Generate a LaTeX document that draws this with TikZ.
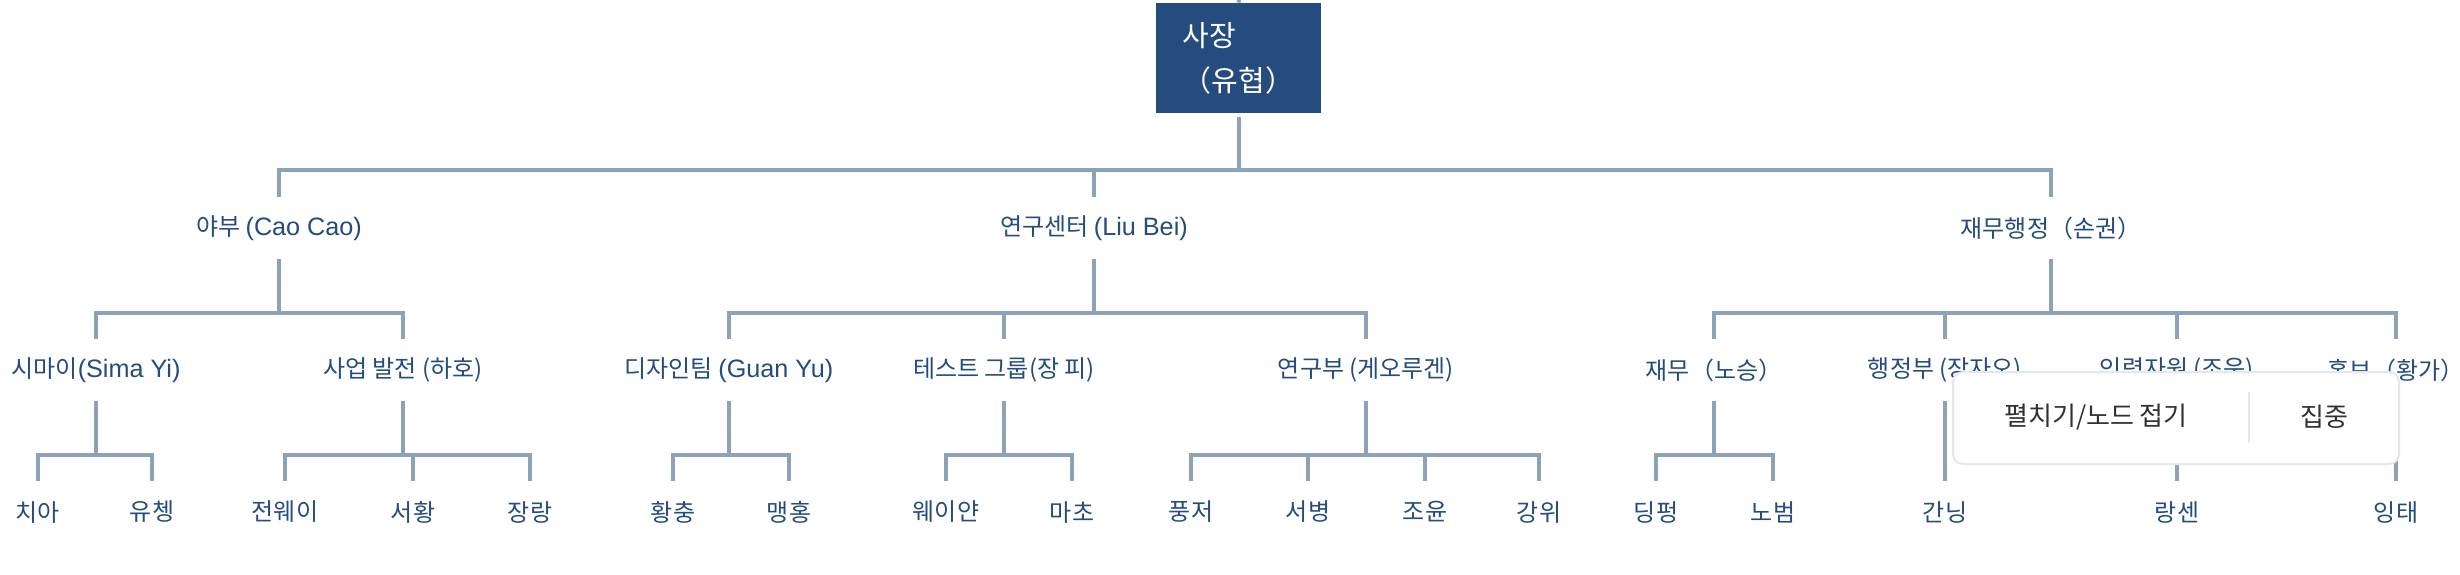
\documentclass[tikz,border=0pt]{standalone}
\usepackage{fontspec}
\setmainfont{Noto Sans CJK KR}
\newfontfamily\latinfont[Scale=1.05]{Liberation Sans}
\newcommand\ltn[1]{{\latinfont#1}}
\definecolor{Navy}{HTML}{244C7E}
\definecolor{Steel}{HTML}{8BA2B9}
\definecolor{MenuInk}{HTML}{303133}
\definecolor{MenuLine}{HTML}{E4E7ED}
\tikzset{
  boss/.style={
    fill=Navy, text=white, align=left, inner sep=0pt,
    minimum width=82.5pt, minimum height=55pt,
    font=\fontsize{14.5}{22.5}\selectfont
  },
  unit/.style={
    text=Navy, inner sep=0pt, minimum height=31pt,
    font=\fontsize{12}{14}\selectfont
  },
  link/.style={draw=Steel, line width=2pt},
  popup/.style={
    rounded corners=5pt, draw=MenuLine, line width=1pt, fill=white,
    minimum width=223pt, minimum height=46pt, inner sep=0pt
  },
  menuitem/.style={text=MenuInk, inner sep=0pt, font=\fontsize{13}{15}\selectfont}
}

\begin{document}
\begin{tikzpicture}[x=0.5pt,y=-0.5pt]
  \path[fill=white,use as bounding box] (0,0) rectangle (2460,574);
  % top of the chart
  \coordinate (above) at (1239,0);
  \node[boss] (boss) at (1238.5,58) {사장\\（유협）};
  % departments
  \node[unit] (caocao) at (279,228) {야부 \ltn{(Cao Cao)}};
  \node[unit] (liubei) at (1094,228) {연구센터 \ltn{(Liu Bei)}};
  \node[unit] (sunquan) at (2051,228) {재무행정（손권）};
  % teams
  \node[unit] (sima) at (96,370) {시마이\ltn{(Sima Yi)}};
  \node[unit] (business) at (403,370) {사업 발전 (하호)};
  \node[unit] (design) at (729,370) {디자인팀 \ltn{(Guan Yu)}};
  \node[unit] (testgroup) at (1004,370) {테스트 그룹(장 피)};
  \node[unit] (research) at (1366,370) {연구부 (게오루겐)};
  \node[unit] (finance) at (1714,370) {재무（노승）};
  \node[unit] (admin) at (1945,370) {행정부 (장자오)};
  \node[unit] (hr) at (2177,370) {인력자원 (조운)};
  \node[unit] (pr) at (2396,370) {홍보（황가）};
  % members
  \node[unit] (chia) at (38,512) {치아};
  \node[unit] (youcheng) at (152,512) {유쳉};
  \node[unit] (zhenwei) at (285,512) {전웨이};
  \node[unit] (xuhuang) at (413,512) {서황};
  \node[unit] (zhangliang) at (530,512) {장랑};
  \node[unit] (huangzhong) at (673,512) {황충};
  \node[unit] (menghong) at (789,512) {맹홍};
  \node[unit] (weiyan) at (946,512) {웨이얀};
  \node[unit] (machao) at (1072,512) {마초};
  \node[unit] (fengzhe) at (1191,512) {풍저};
  \node[unit] (xubing) at (1308,512) {서병};
  \node[unit] (zhaoyun) at (1425,512) {조윤};
  \node[unit] (jiangwei) at (1539,512) {강위};
  \node[unit] (dingping) at (1656,512) {딩펑};
  \node[unit] (nobum) at (1773,512) {노범};
  \node[unit] (ganning) at (1945,512) {간닝};
  \node[unit] (langsen) at (2177,512) {랑센};
  \node[unit] (yingtai) at (2396,512) {잉태};
  % links
  \draw[link] (above) -- (boss.north);
  \draw[link,shorten <=2pt] (boss.south) -- ++(0,57) -| (caocao.north);
  \draw[link,shorten <=2pt] (boss.south) -- ++(0,57) -| (liubei.north);
  \draw[link,shorten <=2pt] (boss.south) -- ++(0,57) -| (sunquan.north);
  \draw[link] (caocao.south) -- ++(0,54) -| (sima.north);
  \draw[link] (caocao.south) -- ++(0,54) -| (business.north);
  \draw[link] (liubei.south) -- ++(0,54) -| (design.north);
  \draw[link] (liubei.south) -- ++(0,54) -| (testgroup.north);
  \draw[link] (liubei.south) -- ++(0,54) -| (research.north);
  \draw[link] (sunquan.south) -- ++(0,54) -| (finance.north);
  \draw[link] (sunquan.south) -- ++(0,54) -| (admin.north);
  \draw[link] (sunquan.south) -- ++(0,54) -| (hr.north);
  \draw[link] (sunquan.south) -- ++(0,54) -| (pr.north);
  \draw[link] (sima.south) -- ++(0,54) -| (chia.north);
  \draw[link] (sima.south) -- ++(0,54) -| (youcheng.north);
  \draw[link] (business.south) -- ++(0,54) -| (zhenwei.north);
  \draw[link] (business.south) -- ++(0,54) -| (xuhuang.north);
  \draw[link] (business.south) -- ++(0,54) -| (zhangliang.north);
  \draw[link] (design.south) -- ++(0,54) -| (huangzhong.north);
  \draw[link] (design.south) -- ++(0,54) -| (menghong.north);
  \draw[link] (testgroup.south) -- ++(0,54) -| (weiyan.north);
  \draw[link] (testgroup.south) -- ++(0,54) -| (machao.north);
  \draw[link] (research.south) -- ++(0,54) -| (fengzhe.north);
  \draw[link] (research.south) -- ++(0,54) -| (xubing.north);
  \draw[link] (research.south) -- ++(0,54) -| (zhaoyun.north);
  \draw[link] (research.south) -- ++(0,54) -| (jiangwei.north);
  \draw[link] (finance.south) -- ++(0,54) -| (dingping.north);
  \draw[link] (finance.south) -- ++(0,54) -| (nobum.north);
  \draw[link] (admin.south) -- (ganning.north);
  \draw[link] (hr.south) -- (langsen.north);
  \draw[link] (pr.south) -- (yingtai.north);
  % context menu on top
  \node[popup] (menu) at (2176,418) {};
  \node[menuitem] (unfold) at (2096,417) {펼치기/노드 접기};
  \node[menuitem] (focus) at (2324,417) {집중};
  \draw[MenuLine,line width=1pt] (2249,392) -- (2249,443);
\end{tikzpicture}
\end{document}
